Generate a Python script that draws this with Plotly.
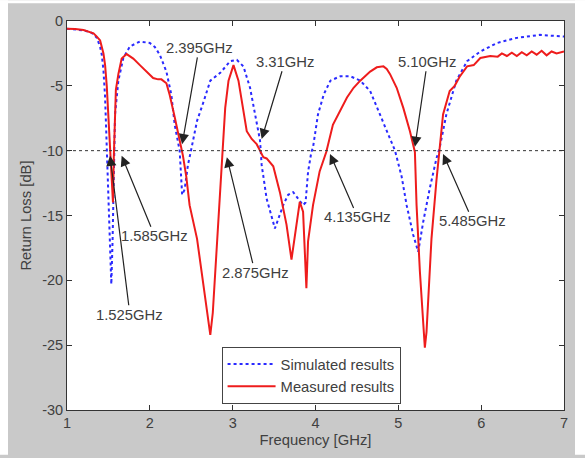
import plotly.graph_objects as go

# ---------------- data ----------------
meas_f = [1.00, 1.10, 1.20, 1.28, 1.32, 1.36, 1.40, 1.44, 1.46, 1.48, 1.50, 1.52, 1.54, 1.555,
          1.565, 1.575, 1.59, 1.62, 1.66, 1.72, 1.80, 1.88, 1.96, 2.04, 2.10, 2.14, 2.20, 2.24,
          2.30, 2.36, 2.40, 2.44, 2.48, 2.57, 2.65, 2.70, 2.73, 2.76, 2.79, 2.85, 2.88, 2.91,
          2.95, 3.01, 3.07, 3.11, 3.17, 3.23, 3.29, 3.33, 3.37, 3.41, 3.49, 3.57, 3.65, 3.71,
          3.74, 3.77, 3.81, 3.85, 3.87, 3.89, 3.91, 3.97, 4.05, 4.13, 4.21, 4.30, 4.38, 4.46,
          4.54, 4.66, 4.74, 4.82, 4.86, 4.90, 4.98, 5.06, 5.14, 5.20, 5.22, 5.26, 5.30, 5.32,
          5.34, 5.36, 5.40, 5.46, 5.50, 5.54, 5.62, 5.68, 5.74, 5.83, 5.91, 5.99, 6.11, 6.20,
          6.25, 6.31, 6.37, 6.43, 6.49, 6.55, 6.61, 6.67, 6.73, 6.79, 6.85, 6.91, 7.00]
meas_db = [-0.6, -0.62, -0.7, -0.85, -0.95, -1.2, -1.5, -2.5, -3.4, -5.0, -7.2, -10.2, -12.5, -14.0,
           -10.5, -7.5, -5.3, -4.1, -2.9, -2.55, -2.9, -3.4, -3.9, -4.4, -4.5, -4.5, -4.8, -5.7,
           -7.4, -9.3, -10.4, -12.0, -14.2, -16.8, -20.6, -23.0, -24.2, -22.5, -19.3, -12.9, -10.3, -6.7,
           -4.6, -3.4, -4.6, -6.2, -8.5, -9.1, -9.5, -10.0, -10.5, -10.6, -11.2, -13.2, -15.7, -18.4,
           -17.0, -15.5, -13.95, -14.7, -17.5, -20.6, -17.0, -14.2, -11.6, -10.1, -8.0, -6.9, -5.9, -5.15,
           -4.6, -3.9, -3.57, -3.5, -3.7, -4.1, -5.15, -6.7, -8.5, -10.1, -14.2, -19.3, -23.5, -25.2,
           -24.0, -21.9, -16.8, -12.3, -9.9, -7.2, -5.4, -5.0, -4.3, -3.5, -3.4, -2.85, -2.7, -2.75,
           -2.5, -2.7, -2.45, -2.7, -2.4, -2.65, -2.35, -2.6, -2.3, -2.65, -2.35, -2.5, -2.35]

sim_f = [1.00, 1.10, 1.20, 1.28, 1.32, 1.36, 1.40, 1.42, 1.44, 1.46, 1.48, 1.50, 1.52, 1.535,
         1.55, 1.565, 1.58, 1.62, 1.68, 1.76, 1.88, 2.00, 2.06, 2.12, 2.20, 2.26, 2.30, 2.36,
         2.39, 2.42, 2.46, 2.50, 2.57, 2.65, 2.73, 2.85, 2.97, 3.05, 3.13, 3.21, 3.27, 3.33,
         3.35, 3.41, 3.51, 3.61, 3.67, 3.73, 3.79, 3.85, 3.88, 3.91, 3.95, 3.97, 4.03, 4.10,
         4.18, 4.30, 4.42, 4.54, 4.66, 4.78, 4.88, 4.96, 5.04, 5.10, 5.18, 5.24, 5.30, 5.38,
         5.46, 5.50, 5.58, 5.70, 5.83, 5.99, 6.19, 6.43, 6.71, 7.00]
sim_db = [-0.6, -0.65, -0.72, -0.85, -1.0, -1.3, -2.0, -2.6, -3.8, -5.9, -9.7, -14.0, -18.0, -20.3,
          -17.0, -12.0, -7.2, -4.6, -2.85, -1.96, -1.58, -1.7, -2.0, -2.6, -3.9, -5.7, -8.0, -10.0,
          -13.4, -13.0, -11.1, -9.9, -7.7, -6.2, -4.6, -4.0, -3.1, -3.0, -3.5, -5.15, -7.2, -9.2,
          -11.1, -13.7, -16.0, -14.2, -13.4, -13.2, -13.7, -14.2, -14.0, -11.65, -10.1, -9.75, -7.2, -5.66,
          -4.6, -4.26, -4.26, -4.6, -5.4, -7.2, -8.7, -10.0, -12.0, -14.2, -16.5, -17.8, -15.5, -12.9,
          -10.6, -9.75, -7.2, -4.6, -3.1, -2.35, -1.7, -1.3, -1.07, -1.2]

x_ticks = [1, 2, 3, 4, 5, 6, 7]
y_ticks = [0, -5, -10, -15, -20, -25, -30]
y_tick_labels = ["0", "-5", "-10", "-15", "-20", "-25", "-30"]
threshold_db = -10

# annotations: label, arrow tip (f, dB), label centre (f, dB)
ann_text = ["2.395GHz", "3.31GHz", "5.10GHz", "1.585GHz", "1.525GHz", "2.875GHz", "4.135GHz", "5.485GHz"]
ann_tip_f = [2.39, 3.35, 5.20, 1.66, 1.52, 2.93, 4.175, 5.54]
ann_tip_db = [-9.5, -9.1, -9.7, -10.4, -10.4, -10.5, -10.25, -10.25]
ann_txt_f = [2.594, 3.63, 5.35, 2.06, 1.76, 3.27, 4.51, 5.90]
ann_txt_db = [-2.07, -3.14, -3.14, -16.6, -22.65, -19.4, -15.15, -15.45]

# ---------------- figure ----------------
FONT = "Liberation Sans, Arial, sans-serif"
TXT = "#404040"

fig = go.Figure()
fig.add_trace(go.Scatter(x=sim_f, y=sim_db, mode="lines", name="Simulated results",
                         line=dict(color="#2a2aff", width=2, dash="dot")))
fig.add_trace(go.Scatter(x=meas_f, y=meas_db, mode="lines", name="Measured results",
                         line=dict(color="#ee1c1c", width=2)))

fig.add_shape(type="line", xref="x", yref="y", x0=x_ticks[0], x1=x_ticks[-1],
              y0=threshold_db, y1=threshold_db, line=dict(color="#333333", width=1, dash="3px,3px"))

for t, tf, td, xf, xd in zip(ann_text, ann_tip_f, ann_tip_db, ann_txt_f, ann_txt_db):
    fig.add_annotation(x=tf, y=td, ax=xf, ay=xd, axref="x", ayref="y", xref="x", yref="y",
                       text=t, showarrow=True, arrowhead=2, arrowsize=1.7, arrowwidth=1.2,
                       arrowcolor="#222222", standoff=0,
                       font=dict(family=FONT, size=14.8, color=TXT))

# white outer strips of the picture
for (x0, x1, y0, y1) in [(0, 8, 0, 458), (0, 585, 0, 3), (575, 585, 0, 458)]:
    fig.add_shape(type="rect", xref="paper", yref="paper",
                  x0=(x0 - 67) / 497, x1=(x1 - 67) / 497,
                  y0=(413 - y1) / 392, y1=(413 - y0) / 392,
                  fillcolor="white", line=dict(width=0), layer="below")

axis_common = dict(showline=True, linecolor="#333333", linewidth=1, mirror="ticks",
                   ticks="inside", ticklen=5, tickcolor="#333333", showgrid=False, zeroline=False,
                   tickfont=dict(family=FONT, size=14.5, color=TXT))

fig.update_layout(
    width=585, height=458,
    margin=dict(l=67, r=21, t=21, b=45),
    paper_bgcolor="#c9c9c9", plot_bgcolor="white",
    xaxis=dict(range=[1, 7], tickvals=x_ticks, **axis_common,
               title=dict(text="Frequency [GHz]", font=dict(family=FONT, size=14.8, color=TXT), standoff=4)),
    yaxis=dict(range=[-30, 0], tickvals=y_ticks, ticktext=y_tick_labels, **axis_common,
               title=dict(text="Return Loss [dB]", font=dict(family=FONT, size=14.8, color=TXT), standoff=6)),
    legend=dict(x=0.311, y=0.1625, xanchor="left", yanchor="top", bgcolor="white",
                bordercolor="#444444", borderwidth=1, itemwidth=48,
                font=dict(family=FONT, size=14.8, color=TXT), tracegroupgap=0),
    showlegend=True,
)

fig.write_html("out.html")
